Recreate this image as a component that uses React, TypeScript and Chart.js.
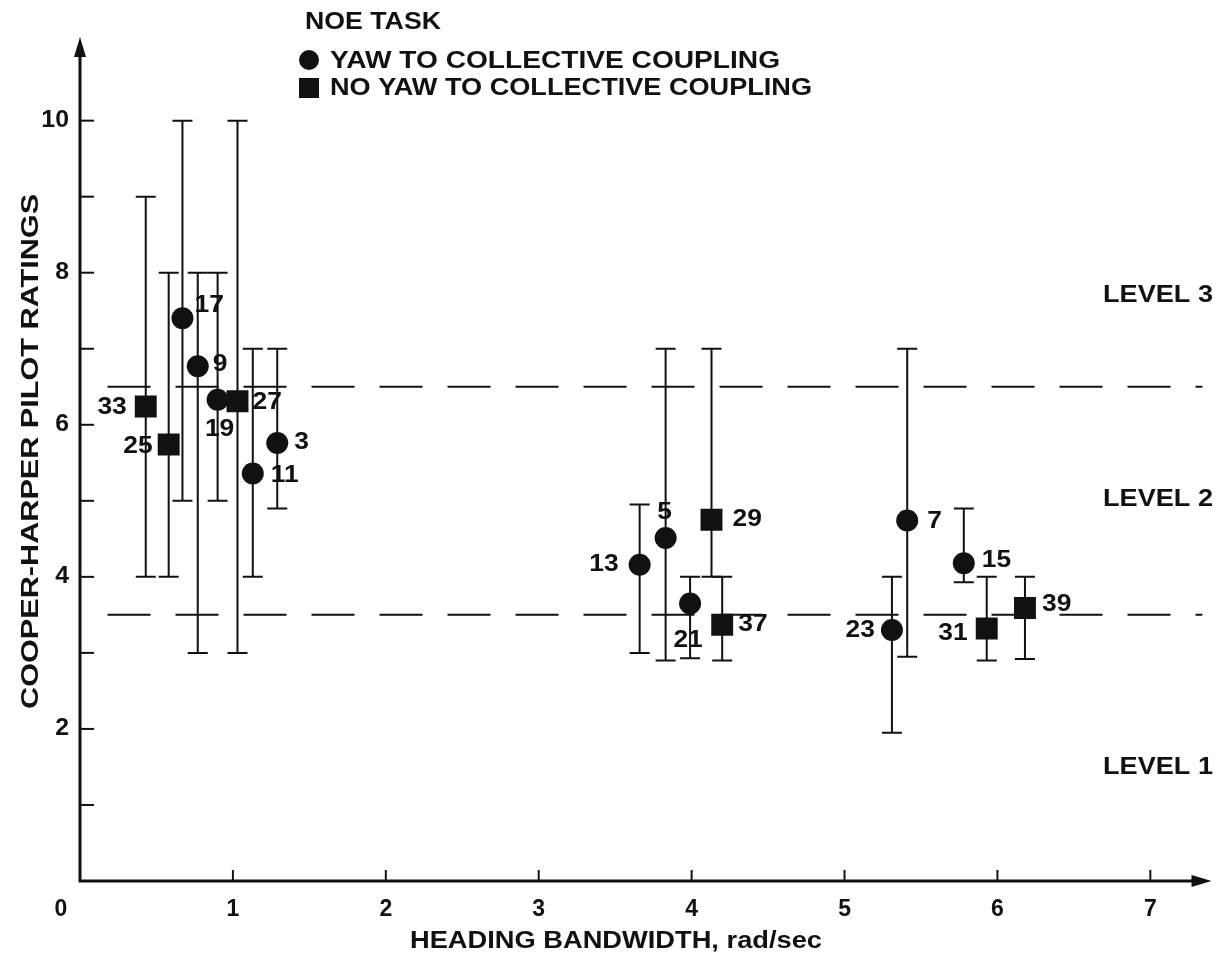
import { useEffect, useRef } from "react";
import { Chart, registerables } from "chart.js";

Chart.register(...registerables);

// ---- Data ----
const yawIds = ["17", "9", "19", "11", "3", "13", "5", "21", "7", "23", "15"];
const yawX = [0.67, 0.77, 0.9, 1.13, 1.29, 3.66, 3.83, 3.99, 5.41, 5.31, 5.78];
const yawY = [7.4, 6.77, 6.33, 5.36, 5.76, 4.16, 4.51, 3.65, 4.74, 3.3, 4.18];
const yawLow = [5, 3, 5, 4, 4.9, 3, 2.9, 2.93, 2.95, 1.95, 3.93];
const yawHigh = [10, 8, 8, 7, 7, 4.95, 7, 4, 7, 4, 4.9];

const noYawIds = ["33", "25", "27", "29", "37", "31", "39"];
const noYawX = [0.43, 0.58, 1.03, 4.13, 4.2, 5.93, 6.18];
const noYawY = [6.24, 5.74, 6.31, 4.75, 3.37, 3.32, 3.59];
const noYawLow = [4, 4, 3, 4, 2.9, 2.9, 2.92];
const noYawHigh = [9, 8, 10, 7, 4, 4, 4];

const levelBounds = [3.5, 6.5];
const levelLabels = ["LEVEL 1", "LEVEL 2", "LEVEL 3"];
const xTickLabels = ["0", "1", "2", "3", "4", "5", "6", "7"];
const yTickLabels = ["2", "4", "6", "8", "10"];

const legendTitle = "NOE TASK";
const yawName = "YAW TO COLLECTIVE COUPLING";
const noYawName = "NO YAW TO COLLECTIVE COUPLING";
const xTitle = "HEADING BANDWIDTH, rad/sec";
const yTitle = "COOPER-HARPER PILOT RATINGS";

const INK = "#111";
const BOLD = "bold 24px 'Liberation Sans', Arial, sans-serif";
const BOLD23 = "bold 23px 'Liberation Sans', Arial, sans-serif";

// label placement relative to marker (pixels)
const labelPlace: Record<string, [number, number, CanvasTextAlign]> = {
  "33": [-19, 1, "right"],
  "25": [-16, 2, "right"],
  "17": [12, -13, "left"],
  "9": [15, -2, "left"],
  "19": [2, 30, "center"],
  "27": [15, 1, "left"],
  "11": [18, 2, "left"],
  "3": [17, -1, "left"],
  "13": [-21, 0, "right"],
  "5": [-1, -26, "center"],
  "29": [21, 0, "left"],
  "21": [-2, 37, "center"],
  "37": [16, 0, "left"],
  "7": [20, 1, "left"],
  "23": [-17, 0, "right"],
  "15": [18, -3, "left"],
  "31": [-19, 5, "right"],
  "39": [17, -4, "left"],
};

function drawStretched(
  ctx: CanvasRenderingContext2D,
  text: string,
  x: number,
  y: number,
  sx: number,
  align: CanvasTextAlign,
  font: string
) {
  ctx.save();
  ctx.font = font;
  const w = ctx.measureText(text).width * sx;
  const x0 = align === "left" ? x : align === "center" ? x - w / 2 : x - w;
  ctx.translate(x0, y);
  ctx.scale(sx, 1);
  ctx.textAlign = "left";
  ctx.textBaseline = "middle";
  ctx.fillStyle = INK;
  ctx.fillText(text, 0, 0);
  ctx.restore();
}

function drawFit(
  ctx: CanvasRenderingContext2D,
  text: string,
  x: number,
  y: number,
  width: number,
  align: CanvasTextAlign,
  font: string
) {
  ctx.save();
  ctx.font = font;
  const sx = width / ctx.measureText(text).width;
  ctx.restore();
  drawStretched(ctx, text, x, y, sx, align, font);
}

const overlayPlugin = {
  id: "overlay",
  beforeDatasetsDraw(chart: any) {
    const ctx: CanvasRenderingContext2D = chart.ctx;
    const xs = chart.scales.x;
    const ys = chart.scales.y;
    ctx.save();
    ctx.strokeStyle = INK;
    ctx.lineWidth = 2;
    const bars = (X: number[], lo: number[], hi: number[]) => {
      X.forEach((xv, i) => {
        const px = xs.getPixelForValue(xv);
        const p1 = ys.getPixelForValue(lo[i]);
        const p2 = ys.getPixelForValue(hi[i]);
        ctx.beginPath();
        ctx.moveTo(px, p1);
        ctx.lineTo(px, p2);
        ctx.moveTo(px - 10, p1);
        ctx.lineTo(px + 10, p1);
        ctx.moveTo(px - 10, p2);
        ctx.lineTo(px + 10, p2);
        ctx.stroke();
      });
    };
    bars(yawX, yawLow, yawHigh);
    bars(noYawX, noYawLow, noYawHigh);
    ctx.restore();
  },
  afterDraw(chart: any) {
    const ctx: CanvasRenderingContext2D = chart.ctx;
    const xs = chart.scales.x;
    const ys = chart.scales.y;
    const x0 = xs.getPixelForValue(0);
    const y0 = ys.getPixelForValue(0);
    const xEnd = xs.getPixelForValue(xs.max);
    const yEnd = ys.getPixelForValue(ys.max);
    ctx.save();
    ctx.strokeStyle = INK;
    ctx.fillStyle = INK;
    // axes
    ctx.lineWidth = 3;
    ctx.beginPath();
    ctx.moveTo(x0, yEnd + 12);
    ctx.lineTo(x0, y0);
    ctx.lineTo(xEnd - 12, y0);
    ctx.stroke();
    // arrows
    ctx.beginPath();
    ctx.moveTo(x0, yEnd);
    ctx.lineTo(x0 - 6, yEnd + 20);
    ctx.lineTo(x0 + 6, yEnd + 20);
    ctx.closePath();
    ctx.fill();
    ctx.beginPath();
    ctx.moveTo(xEnd, y0);
    ctx.lineTo(xEnd - 20, y0 - 6);
    ctx.lineTo(xEnd - 20, y0 + 6);
    ctx.closePath();
    ctx.fill();
    // y ticks
    ctx.lineWidth = 2;
    for (let v = 1; v <= 10; v++) {
      const py = ys.getPixelForValue(v);
      ctx.beginPath();
      ctx.moveTo(x0, py);
      ctx.lineTo(x0 + 14, py);
      ctx.stroke();
    }
    // x ticks
    for (let v = 1; v <= 7; v++) {
      const px = xs.getPixelForValue(v);
      ctx.beginPath();
      ctx.moveTo(px, y0);
      ctx.lineTo(px, y0 - 11);
      ctx.stroke();
    }
    ctx.restore();

    // x tick labels
    xTickLabels.forEach((t, i) => {
      const px = i === 0 ? x0 - 19 : xs.getPixelForValue(i);
      drawStretched(ctx, t, px, y0 + 29, 1.0, "center", BOLD23);
    });
    // y tick labels
    yTickLabels.forEach((t) => {
      const py = ys.getPixelForValue(Number(t));
      drawStretched(ctx, t, x0 - 11, py, 1.08, "right", BOLD23);
    });
    // axis titles
    drawFit(ctx, xTitle, 616, y0 + 61, 412, "center", BOLD23);
    ctx.save();
    ctx.translate(31, ys.getPixelForValue(5.65));
    ctx.rotate(-Math.PI / 2);
    drawFit(ctx, yTitle, 0, 0, 515, "center", BOLD);
    ctx.restore();

    // level labels
    const lvY = [1.5, 5.02, 7.7];
    levelLabels.forEach((t, i) => {
      drawFit(ctx, t, 1213, ys.getPixelForValue(lvY[i]), 110, "right", BOLD);
    });

    // point labels
    const labels = (ids: string[], X: number[], Y: number[]) => {
      ids.forEach((id, i) => {
        const [dx, dy, al] = labelPlace[id] || [15, 0, "left"];
        drawStretched(
          ctx,
          id,
          xs.getPixelForValue(X[i]) + dx,
          ys.getPixelForValue(Y[i]) + dy,
          1.1,
          al,
          BOLD
        );
      });
    };
    labels(yawIds, yawX, yawY);
    labels(noYawIds, noYawX, noYawY);

    // legend
    drawFit(ctx, legendTitle, 305, 22, 136, "left", BOLD);
    ctx.save();
    ctx.fillStyle = INK;
    ctx.beginPath();
    ctx.arc(309, 60, 10, 0, Math.PI * 2);
    ctx.fill();
    ctx.fillRect(299, 78, 20, 20);
    ctx.restore();
    drawFit(ctx, yawName, 330, 61, 450, "left", BOLD);
    drawFit(ctx, noYawName, 330, 88, 482, "left", BOLD);
  },
};

export default function App() {
  const ref = useRef<HTMLCanvasElement | null>(null);
  useEffect(() => {
    document.body.style.margin = "0";
    const canvas = ref.current;
    if (!canvas) return;
    const chart = new Chart(canvas, {
      type: "scatter",
      data: {
        datasets: [
          {
            label: yawName,
            data: yawX.map((x, i) => ({ x, y: yawY[i] })),
            pointStyle: "circle",
            pointRadius: 11,
            pointHoverRadius: 11,
            backgroundColor: INK,
            borderColor: INK,
            borderWidth: 0,
          },
          {
            label: noYawName,
            data: noYawX.map((x, i) => ({ x, y: noYawY[i] })),
            pointStyle: "rect",
            pointRadius: 15.5,
            pointHoverRadius: 15.5,
            backgroundColor: INK,
            borderColor: INK,
            borderWidth: 0,
          },
          ...levelBounds.map((b) => ({
            label: "bound " + b,
            data: [
              { x: 0.18, y: b },
              { x: 7.34, y: b },
            ],
            showLine: true,
            pointRadius: 0,
            borderColor: INK,
            borderWidth: 2,
            borderDash: [43, 25],
            backgroundColor: INK,
          })),
        ],
      },
      options: {
        responsive: true,
        maintainAspectRatio: false,
        animation: false,
        layout: { padding: { left: 80, right: 5, top: 37, bottom: 77 } },
        plugins: { legend: { display: false }, tooltip: { enabled: false } },
        scales: {
          x: { type: "linear", min: 0, max: 7.4, display: false },
          y: { type: "linear", min: 0, max: 11.1, display: false },
        },
      },
      plugins: [overlayPlugin],
    });
    return () => chart.destroy();
  }, []);
  return (
    <div style={{ width: 1227, height: 958, position: "relative", background: "#fff" }}>
      <canvas ref={ref} style={{ display: "block" }} />
    </div>
  );
}
